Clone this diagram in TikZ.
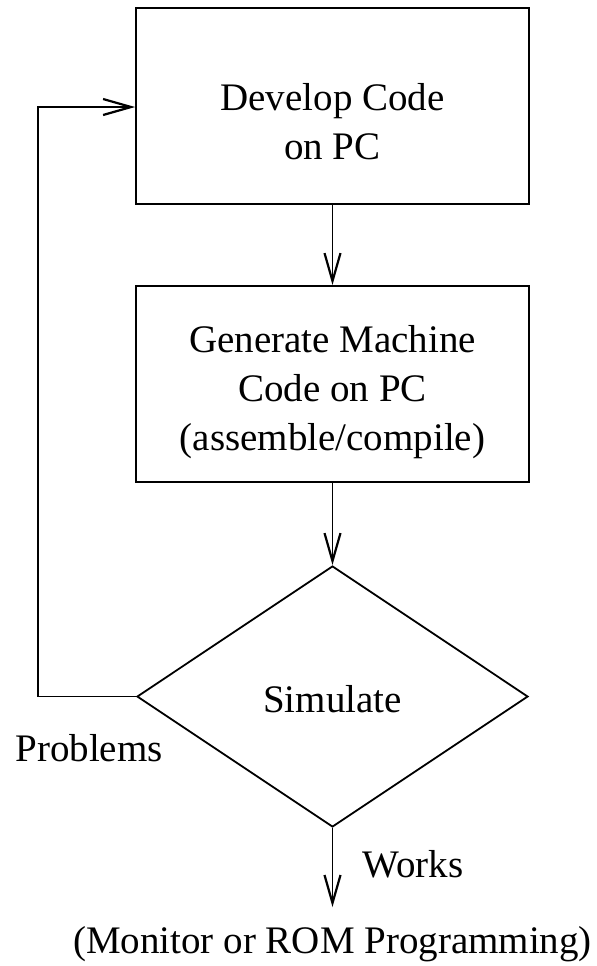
\documentclass[tikz,border=0pt]{standalone}
\usepackage{fontspec}
\setmainfont{Liberation Serif}
\usetikzlibrary{arrows.meta,shapes.geometric}
\begin{document}
\begin{tikzpicture}[x=0.5pt,y=-0.5pt,
  every node/.style={font=\fontsize{19.5}{24.5}\selectfont},
  stepbox/.style={draw,line width=0.9pt,rectangle,inner sep=0pt,
    minimum width=196.5pt,minimum height=98pt},
  decision/.style={draw,line width=0.9pt,diamond,inner sep=0pt,
    minimum width=195.5pt,minimum height=130.5pt},
  txt/.style={align=center,inner sep=0pt},
  flow/.style={line width=0.8pt,-{Straight Barb[length=14pt,width=8pt,line width=1.1pt]}}]
  \useasboundingbox (0,0) rectangle (596,966);

  % process boxes and the decision
  \node[stepbox] (dev) at (332.5,106) {};
  \node[txt] (devtxt) at (332.5,122) {Develop Code\\on PC};
  \node[stepbox] (gen) at (332.5,384) {};
  \node[txt] (gentxt) at (332.5,392) {Generate Machine\\Code on PC\\(assemble/compile)};
  \node[decision] (sim) at (332.5,696.5) {};
  \node[inner sep=0pt,anchor=base] (simtxt) at (332.5,712) {Simulate};

  % outgoing labels
  \node[inner sep=0pt,anchor=base west] (prob) at (15,761) {Problems};
  \node[inner sep=0pt,anchor=base west] (works) at (362,877) {Works};
  \node[inner sep=0pt,anchor=base] (out) at (332.5,953) {(Monitor or ROM Programming)};
  \coordinate (end) at (332.5,907);
  \coordinate (loopbot) at (38,696.5);
  \coordinate (looptop) at (38,107);

  % connectors
  \draw[flow] (dev.south) -- (gen.north);
  \draw[flow] (gen.south) -- (sim.north);
  \draw[flow] (sim.south) -- (end);
  \draw[flow] (sim.west) -- (loopbot) -- (looptop) -- (looptop -| dev.west);
\end{tikzpicture}
\end{document}
